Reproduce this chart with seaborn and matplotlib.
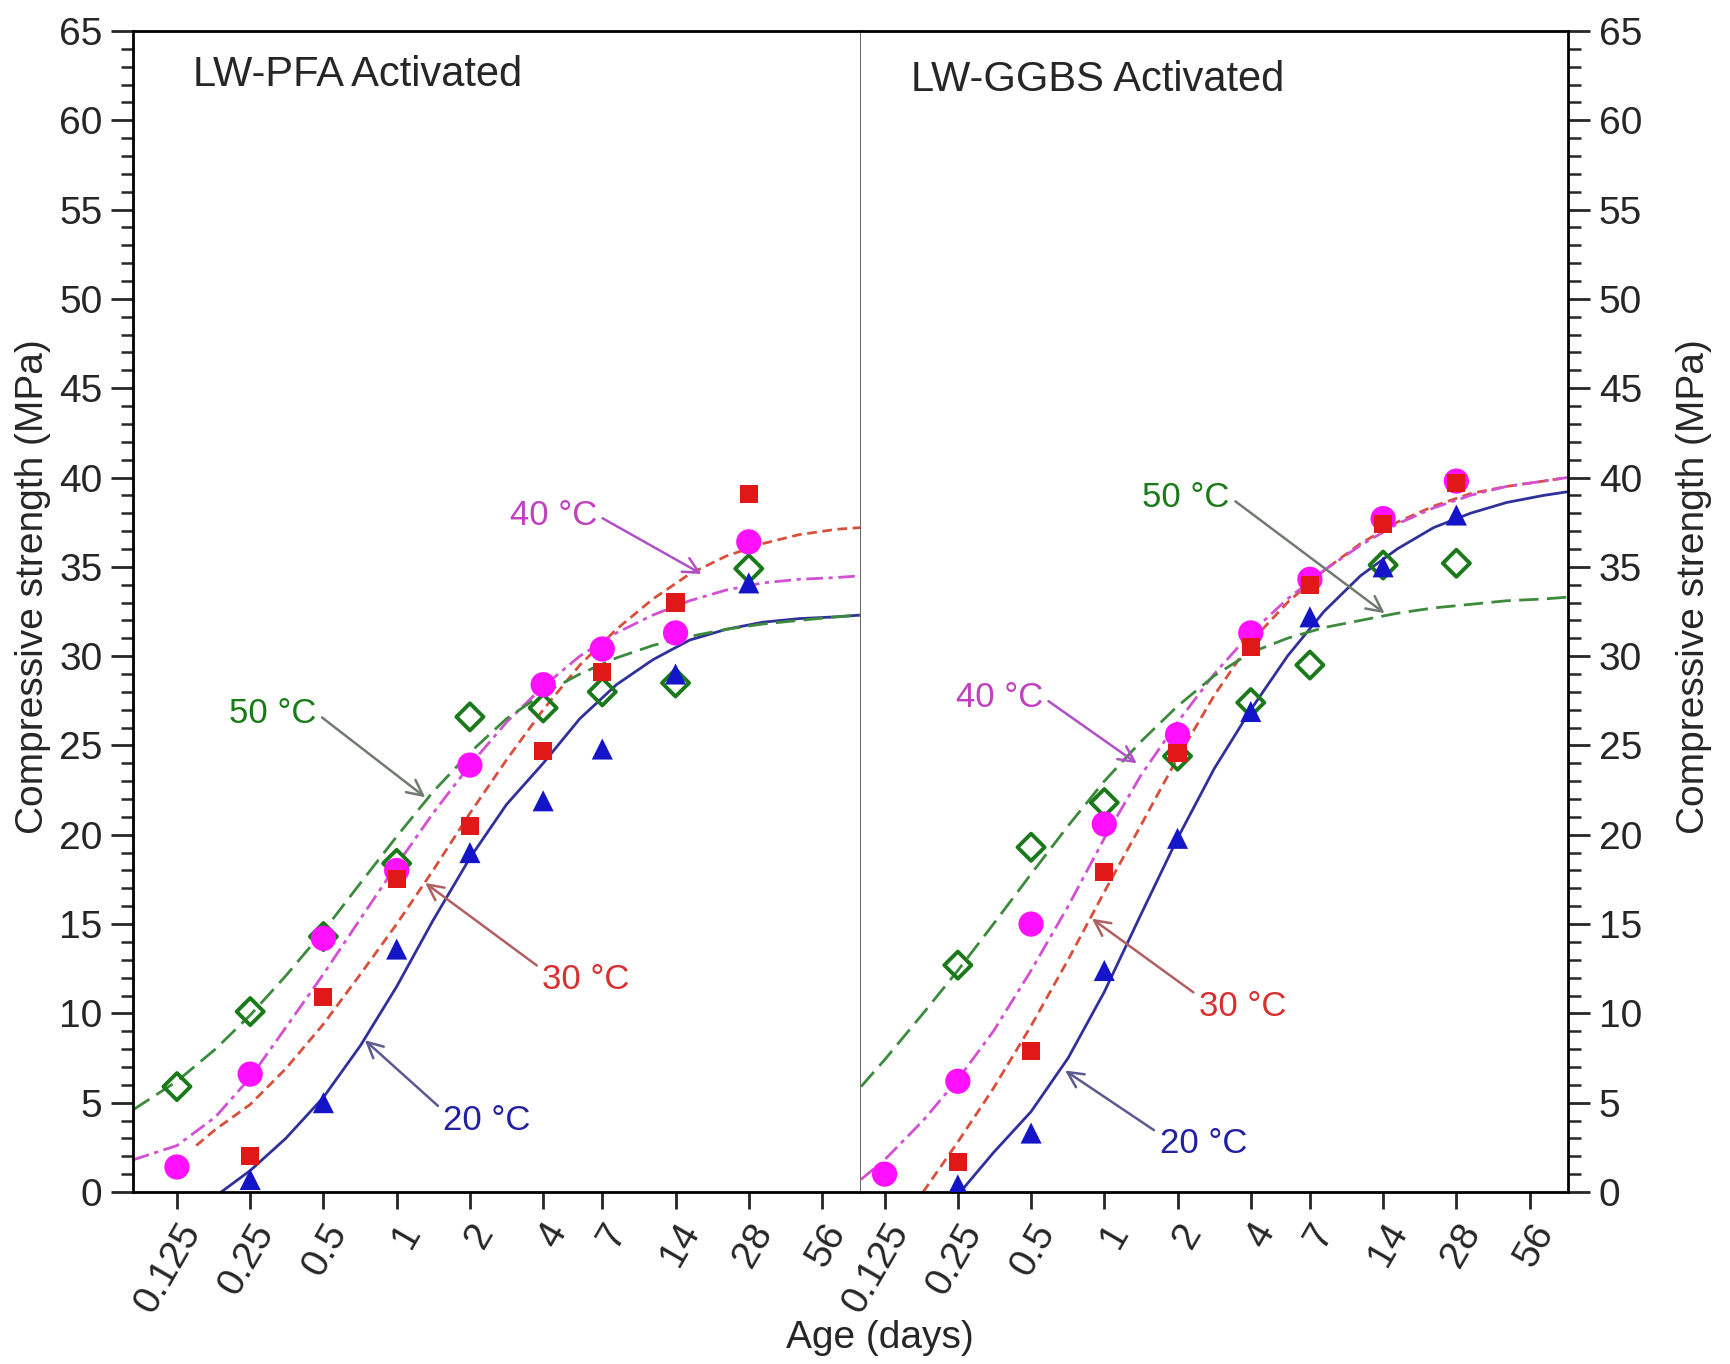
import numpy as np
import matplotlib
matplotlib.use("Agg")
import matplotlib.pyplot as plt
from matplotlib.ticker import FixedLocator, MultipleLocator
import seaborn as sns

sns.set_style("ticks")
plt.rcParams['font.family'] = ['Liberation Sans', 'DejaVu Sans']

nan = np.nan

# measured ages (days)
ages = [0.125, 0.25, 0.5, 1, 2, 4, 7, 14, 28]

# LW-PFA activated, measured strength (MPa)
pfa_20 = [nan, 0.7, 5.0, 13.6, 19.0, 21.9, 24.8, 29.0, 34.1]
pfa_30 = [nan, 2.0, 10.9, 17.5, 20.5, 24.7, 29.1, 33.0, 39.1]
pfa_40 = [1.4, 6.6, 14.2, 18.0, 23.9, 28.4, 30.4, 31.3, 36.4]
pfa_50 = [5.9, 10.1, 14.3, 18.4, 26.6, 27.1, 28.0, 28.5, 34.9]

# LW-GGBS activated, measured strength (MPa)
ggbs_20 = [nan, 0.4, 3.3, 12.4, 19.8, 26.9, 32.2, 35.0, 37.9]
ggbs_30 = [nan, 1.7, 7.9, 17.9, 24.6, 30.5, 34.0, 37.4, 39.7]
ggbs_40 = [1.0, 6.2, 15.0, 20.6, 25.6, 31.3, 34.3, 37.7, 39.8]
ggbs_50 = [nan, 12.7, 19.3, 21.8, 24.4, 27.4, 29.5, 35.1, 35.2]

# fitted curves
pfa_fit20_t = [0.19, 0.25, 0.35, 0.5, 0.71, 1, 1.41, 2, 2.83, 4, 5.66, 8, 11.3, 16, 22.6, 32, 45, 64, 81]
pfa_fit20 = [0, 1.2, 3.0, 5.3, 8.2, 11.5, 15.2, 18.7, 21.7, 24.0, 26.5, 28.4, 29.8, 30.9, 31.5, 31.9, 32.1, 32.2, 32.3]
pfa_fit30_t = [0.15, 0.18, 0.25, 0.35, 0.5, 0.71, 1, 1.41, 2, 2.83, 4, 5.66, 8, 11.3, 16, 22.6, 32, 45, 64, 81]
pfa_fit30 = [2.6, 3.5, 4.9, 6.9, 9.4, 12.2, 15.0, 18.0, 21.2, 24.2, 27.0, 29.5, 31.5, 33.2, 34.6, 35.6, 36.3, 36.8, 37.1, 37.2]
pfa_fit40_t = [0.0825, 0.125, 0.18, 0.25, 0.35, 0.5, 0.71, 1, 1.41, 2, 2.83, 4, 5.66, 8, 11.3, 16, 22.6, 32, 45, 64, 81]
pfa_fit40 = [1.8, 2.6, 4.2, 6.4, 9.2, 12.2, 15.3, 18.3, 21.2, 23.9, 26.3, 28.3, 30.0, 31.3, 32.3, 33.1, 33.7, 34.1, 34.3, 34.4, 34.5]
pfa_fit50_t = [0.0825, 0.125, 0.18, 0.25, 0.35, 0.5, 0.71, 1, 1.41, 2, 2.83, 4, 5.66, 8, 11.3, 16, 22.6, 32, 45, 64, 81]
pfa_fit50 = [4.6, 6.2, 8.0, 9.9, 12.1, 14.6, 17.3, 19.9, 22.4, 24.6, 26.5, 27.9, 29.0, 29.9, 30.6, 31.1, 31.5, 31.8, 32.0, 32.2, 32.3]

ggbs_fit20_t = [0.256, 0.35, 0.5, 0.71, 1, 1.41, 2, 2.83, 4, 5.66, 8, 11.3, 16, 22.6, 32, 45, 64, 80]
ggbs_fit20 = [0, 2.2, 4.5, 7.5, 11.2, 15.5, 19.8, 23.7, 27.0, 30.0, 32.5, 34.5, 36.0, 37.2, 38.0, 38.6, 39.0, 39.2]
ggbs_fit30_t = [0.18, 0.25, 0.35, 0.5, 0.71, 1, 1.41, 2, 2.83, 4, 5.66, 8, 11.3, 16, 22.6, 32, 45, 64, 80]
ggbs_fit30 = [0, 2.8, 5.8, 9.3, 13.0, 16.8, 20.5, 24.3, 27.8, 30.8, 33.0, 34.8, 36.3, 37.5, 38.4, 39.1, 39.5, 39.8, 40.0]
ggbs_fit40_t = [0.1, 0.125, 0.18, 0.25, 0.35, 0.5, 0.71, 1, 1.41, 2, 2.83, 4, 5.66, 8, 11.3, 16, 22.6, 32, 45, 64, 80]
ggbs_fit40 = [0.7, 1.8, 4.0, 6.3, 9.0, 12.4, 16.0, 19.8, 23.3, 26.3, 29.0, 31.3, 33.2, 34.8, 36.2, 37.4, 38.3, 39.0, 39.5, 39.8, 40.0]
ggbs_fit50_t = [0.1, 0.125, 0.18, 0.25, 0.35, 0.5, 0.71, 1, 1.41, 2, 2.83, 4, 5.66, 8, 11.3, 16, 22.6, 32, 45, 64, 80]
ggbs_fit50 = [5.9, 7.4, 10.0, 12.4, 15.0, 17.8, 20.5, 23.0, 25.2, 27.2, 28.9, 30.2, 31.0, 31.6, 32.0, 32.4, 32.7, 32.9, 33.1, 33.2, 33.3]

tick_ages = [0.125, 0.25, 0.5, 1, 2, 4, 7, 14, 28, 56]
tick_labels = ['0.125', '0.25', '0.5', '1', '2', '4', '7', '14', '28', '56']

# colours / styles
c20_pt, c20_ln = '#1414c8', '#30309a'
c30_pt, c30_ln = '#e01818', '#d8503c'
c40_pt, c40_ln = '#ff10ff', '#d250d2'
c50_pt, c50_ln = '#1a7a1a', '#3c8a3c'
ls30 = (0, (3.5, 2))
ls40 = (0, (6, 2, 1.5, 2))
ls50 = (0, (7, 3))

fig = plt.figure(figsize=(17.3, 13.64), dpi=100)
ax1 = fig.add_axes([0.0769, 0.1261, 0.4208, 0.8512])
ax2 = fig.add_axes([0.4977, 0.1261, 0.4087, 0.8512])


def draw(ax, pts, fits):
    for (t, y), col, ls in zip(fits, [c20_ln, c30_ln, c40_ln, c50_ln],
                               ['-', ls30, ls40, ls50]):
        sns.lineplot(x=t, y=y, ax=ax, color=col, linestyle=ls, lw=2,
                     estimator=None, sort=False, solid_joinstyle='round')
    y20, y30, y40, y50 = pts
    sns.scatterplot(x=ages, y=y50, ax=ax, marker='D', s=190,
                    facecolors='none', edgecolor=c50_pt, linewidth=2.8, zorder=3)
    sns.scatterplot(x=ages, y=y40, ax=ax, marker='o', s=330,
                    color=c40_pt, edgecolor='none', zorder=4)
    sns.scatterplot(x=ages, y=y30, ax=ax, marker='s', s=170,
                    color=c30_pt, edgecolor='none', zorder=4)
    sns.scatterplot(x=ages, y=y20, ax=ax, marker='^', s=230,
                    color=c20_pt, edgecolor='none', zorder=4)


draw(ax1, [pfa_20, pfa_30, pfa_40, pfa_50],
     [(pfa_fit20_t, pfa_fit20), (pfa_fit30_t, pfa_fit30),
      (pfa_fit40_t, pfa_fit40), (pfa_fit50_t, pfa_fit50)])
draw(ax2, [ggbs_20, ggbs_30, ggbs_40, ggbs_50],
     [(ggbs_fit20_t, ggbs_fit20), (ggbs_fit30_t, ggbs_fit30),
      (ggbs_fit40_t, ggbs_fit40), (ggbs_fit50_t, ggbs_fit50)])

for ax, xl in [(ax1, (0.0825, 81)), (ax2, (0.1, 80.6))]:
    ax.set_xscale('log', base=2)
    ax.set_xlim(*xl)
    ax.set_ylim(0, 65)
    ax.xaxis.set_major_locator(FixedLocator(tick_ages))
    ax.xaxis.set_minor_locator(FixedLocator([]))
    ax.set_xticklabels(tick_labels, rotation=60, ha='right',
                       rotation_mode='anchor', fontsize=28)
    ax.yaxis.set_major_locator(MultipleLocator(5))
    ax.yaxis.set_minor_locator(MultipleLocator(1))
    ax.tick_params(axis='x', which='major', direction='out', length=12,
                   width=2, pad=6)
    ax.tick_params(axis='y', which='major', direction='out', length=16,
                   width=2, labelsize=28, pad=6)
    ax.tick_params(axis='y', which='minor', direction='out', length=9,
                   width=1.8)
    ax.set_xlabel('')
    ax.set_ylabel('')
    for s in ax.spines.values():
        s.set_visible(True)
        s.set_linewidth(2)
        s.set_color('black')

ax1.spines['right'].set_color('#555555')
ax1.spines['right'].set_linewidth(2)
ax2.spines['left'].set_visible(False)
ax2.yaxis.tick_right()
ax2.tick_params(axis='y', which='both', left=False, right=True)

ax1.text(0.082, 0.962, 'LW-PFA Activated', transform=ax1.transAxes,
         fontsize=30, ha='left', va='center')
ax2.text(0.071, 0.958, 'LW-GGBS Activated', transform=ax2.transAxes,
         fontsize=30, ha='left', va='center')


def note(ax, text, xy, xytext, tcol, acol, rel):
    ax.annotate(text, xy=xy, xytext=xytext, fontsize=25, color=tcol,
                ha='center', va='center',
                arrowprops=dict(arrowstyle='->', color=acol, lw=1.8,
                                mutation_scale=28, relpos=rel,
                                shrinkA=2, shrinkB=0))


# left panel labels
note(ax1, '40 °C', (17.9, 34.6), (4.4, 37.9), '#c040c0', '#b050c8', (1, 0.5))
note(ax1, '50 °C', (1.31, 22.1), (0.31, 26.8), c50_pt, '#707a70', (1, 0.5))
note(ax1, '30 °C', (1.31, 17.3), (6.0, 11.9), '#d83030', '#b06060', (0, 0.8))
note(ax1, '20 °C', (0.74, 8.5), (2.35, 4.0), '#2020a0', '#5a5a90', (0, 0.8))
# right panel labels
note(ax2, '50 °C', (14.2, 32.4), (2.17, 38.9), c50_pt, '#707a70', (1, 0.5))
note(ax2, '40 °C', (1.36, 24.0), (0.37, 27.7), '#c040c0', '#b050c8', (1, 0.5))
note(ax2, '30 °C', (0.89, 15.3), (3.7, 10.4), '#d83030', '#b06060', (0, 0.8))
note(ax2, '20 °C', (0.69, 6.8), (2.55, 2.7), '#2020a0', '#5a5a90', (0, 0.8))

fig.text(0.5087, 0.019, 'Age (days)', ha='center', va='center', fontsize=28)
fig.text(0.019, 0.57, 'Compressive strength (MPa)', rotation=90,
         ha='center', va='center', fontsize=28)
fig.text(0.979, 0.57, 'Compressive strength (MPa)', rotation=90,
         ha='center', va='center', fontsize=28)

fig.savefig('out.png', dpi=100)
